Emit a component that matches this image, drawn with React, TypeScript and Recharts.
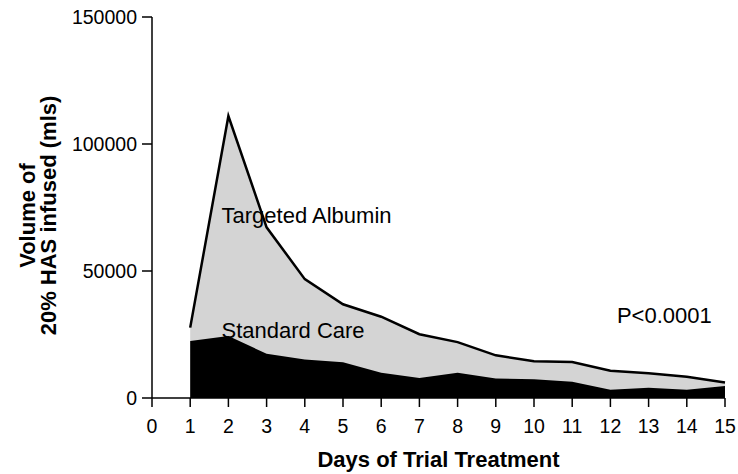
import { AreaChart, Area, XAxis, YAxis, ReferenceDot, Label } from "recharts"

const days = [1, 2, 3, 4, 5, 6, 7, 8, 9, 10, 11, 12, 13, 14, 15]
const targetedAlbumin = [27700, 111000, 67200, 46800, 36900, 32000, 25100, 22000, 16800, 14500, 14200, 10700, 9700, 8400, 6100]
const standardCare = [22400, 24400, 17400, 15200, 14100, 9900, 7900, 9900, 7700, 7400, 6400, 3200, 4000, 3200, 4700]
const xTicks = [0, 1, 2, 3, 4, 5, 6, 7, 8, 9, 10, 11, 12, 13, 14, 15]
const yTicks = [0, 50000, 100000, 150000]

const data = days.map((day, i) => ({
  day,
  targeted: targetedAlbumin[i],
  standard: standardCare[i],
}))

const font = "'Liberation Sans', Arial, sans-serif"
const tickStyle = { fontSize: 19.5, fill: "#000", fontFamily: font }

const note = (text: string) => (p: any) => (
  <text x={p.cx} y={p.cy} fontSize={22} fontFamily={font} fill="#000" textAnchor="start">
    {text}
  </text>
)

function YTitle(props: any) {
  const vb = props.viewBox
  const cx = 36
  const cy = vb.y + vb.height / 2 + 8
  return (
    <text
      transform={`rotate(-90, ${cx}, ${cy})`}
      x={cx}
      y={cy}
      textAnchor="middle"
      fontSize={22}
      fontWeight="bold"
      fontFamily={font}
      fill="#000"
    >
      <tspan x={cx} dy={-1}>Volume of</tspan>
      <tspan x={cx} dy={21}>20% HAS infused (mls)</tspan>
    </text>
  )
}

function XTitle(props: any) {
  const vb = props.viewBox
  return (
    <text
      x={vb.x + vb.width / 2}
      y={467}
      textAnchor="middle"
      fontSize={22}
      fontWeight="bold"
      fontFamily={font}
      fill="#000"
    >
      Days of Trial Treatment
    </text>
  )
}

export default function App() {
  return (
    <div style={{ position: "absolute", left: 0, top: 0, width: 738, height: 474, background: "#fff" }}>
      <AreaChart width={738} height={474} data={data} margin={{ top: 17, right: 13, bottom: 36, left: 92 }}>
        <XAxis
          dataKey="day"
          type="number"
          domain={[0, 15]}
          ticks={xTicks}
          interval={0}
          height={40}
          tick={tickStyle}
          tickSize={9}
          tickMargin={12}
          axisLine={{ stroke: "#000", strokeWidth: 1.5 }}
          tickLine={{ stroke: "#000", strokeWidth: 1.5 }}
        >
          <Label content={XTitle} />
        </XAxis>
        <YAxis
          type="number"
          domain={[0, 150000]}
          ticks={yTicks}
          width={60}
          tick={tickStyle}
          tickSize={10}
          tickMargin={5}
          axisLine={{ stroke: "#000", strokeWidth: 1.5 }}
          tickLine={{ stroke: "#000", strokeWidth: 1.5 }}
        >
          <Label content={YTitle} />
        </YAxis>
        <Area
          type="linear"
          dataKey="targeted"
          stroke="#000"
          strokeWidth={2.5}
          fill="#d4d4d4"
          fillOpacity={1}
          isAnimationActive={false}
          dot={false}
          activeDot={false}
        />
        <Area
          type="linear"
          dataKey="standard"
          stroke="none"
          fill="#000"
          fillOpacity={1}
          isAnimationActive={false}
          dot={false}
          activeDot={false}
        />
        <ReferenceDot x={1.82} y={68800} r={0} shape={note("Targeted Albumin")} />
        <ReferenceDot x={1.82} y={23600} r={0} shape={note("Standard Care")} />
        <ReferenceDot x={12.17} y={29400} r={0} shape={note("P<0.0001")} />
      </AreaChart>
    </div>
  )
}
